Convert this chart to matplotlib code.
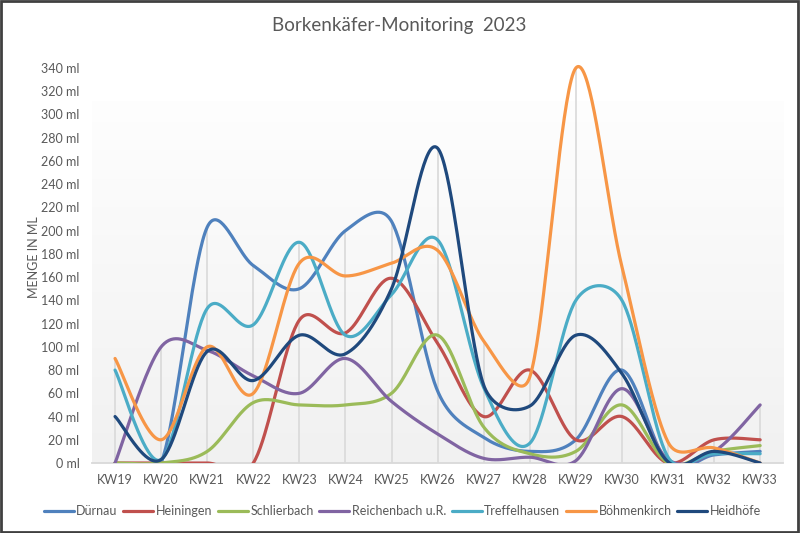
import numpy as np
import matplotlib.pyplot as plt
from matplotlib.patches import Rectangle
from matplotlib.transforms import Bbox, TransformedBbox

weeks = ["KW19", "KW20", "KW21", "KW22", "KW23", "KW24", "KW25", "KW26",
         "KW27", "KW28", "KW29", "KW30", "KW31", "KW32", "KW33"]

duernau = [0, 0, 203, 170, 150, 200, 208, 62, 22, 10, 20, 80, 0, 7, 10]
heiningen = [0, 0, 0, 0, 123, 112, 159, 103, 40, 80, 20, 40, 0, 20, 20]
schlierbach = [0, 0, 10, 52, 50, 50, 60, 110, 31, 8, 10, 50, 0, 10, 15]
reichenbach = [0, 100, 97, 75, 60, 90, 53, 25, 4, 5, 2, 64, 3, 10, 50]
treffelhausen = [80, 3, 133, 119, 190, 110, 145, 192, 65, 17, 140, 140, 5, 8, 8]
boehmenkirch = [90, 20, 100, 60, 172, 161, 172, 183, 105, 74, 340, 169, 18, 13, 0]
heidhoefe = [40, 3, 96, 71, 110, 94, 150, 271, 67, 49, 110, 77, 1, 10, 0]

names = ["Dürnau", "Heiningen", "Schlierbach", "Reichenbach u.R.",
         "Treffelhausen", "Böhmenkirch", "Heidhöfe"]
series = [duernau, heiningen, schlierbach, reichenbach,
          treffelhausen, boehmenkirch, heidhoefe]
colors = ["#4F81BD", "#C0504D", "#9BBB59", "#8064A2",
          "#4BACC6", "#F79646", "#1F497D"]

grey = "#595959"
plt.rcParams['font.family'] = ['Lato', 'DejaVu Sans']

# pixel size of one category step and one ml (used for the smoothing)
SX = 46.07
SY = 1.1618


# excel style smoothed line: bezier segments, control points at 1/6,
# shortened when the neighbouring chord is much longer than the segment
def smooth(y, steps=40):
    pts = np.column_stack([np.arange(len(y)) * SX, np.asarray(y, float) * SY])
    pts = np.vstack([pts[0], pts, pts[-1]])
    t = np.linspace(0, 1, steps, endpoint=False)[:, None]
    out = []
    for i in range(len(y) - 1):
        p0, p1, p2, p3 = pts[i], pts[i + 1], pts[i + 2], pts[i + 3]
        d12 = np.hypot(*(p2 - p1))
        d02 = np.hypot(*(p2 - p0))
        d13 = np.hypot(*(p3 - p1))
        f0 = 1 / 6 if d02 / 6 < d12 / 2 else d12 / d02 / 2
        f1 = 1 / 6 if d13 / 6 < d12 / 2 else d12 / d13 / 2
        c1 = p1 + (p2 - p0) * f0
        c2 = p2 - (p3 - p1) * f1
        b = ((1 - t)**3 * p1 + 3 * (1 - t)**2 * t * c1
             + 3 * (1 - t) * t**2 * c2 + t**3 * p2)
        out.append(b)
    out.append(pts[-1][None, :])
    out = np.vstack(out)
    return out[:, 0] / SX, out[:, 1] / SY


fig = plt.figure(figsize=(8, 5.33), dpi=100)
ax = fig.add_axes([0.115, 0.1313, 0.864, 0.7411])

x = np.arange(len(weeks))

# background gradient of plot area
grad = np.linspace(0, 1, 256).reshape(-1, 1)
top = np.array([0.995, 0.995, 0.995])
bot = np.array([0.945, 0.945, 0.945])
img = top + (bot - top) * grad
img = np.repeat(img[:, None, :], 2, axis=1).reshape(256, 2, 3)
ax.imshow(img, extent=[-0.5, 14.5, 0, 311], aspect='auto', zorder=0)

# drop lines
tops = np.max(np.array(series), axis=0)
ax.vlines(x, 0, tops, color="#D9D9D9", lw=1.2, zorder=1)

clipbox = TransformedBbox(Bbox([[-0.5, 0], [14.5, 400]]), ax.transData)
for name, vals, c in zip(names, series, colors):
    sx, sy = smooth(vals)
    ln, = ax.plot(sx, sy, color=c, lw=2.3, label=name, zorder=3,
                  solid_capstyle='round')
    ln.set_clip_box(clipbox)

ax.set_xlim(-0.5, 14.5)
ax.set_ylim(0, 340)
ax.set_yticks(range(0, 341, 20))
ax.set_yticklabels([f"{v} ml" for v in range(0, 341, 20)])
ax.set_xticks(x)
ax.set_xticklabels(weeks)
ax.tick_params(length=0, labelsize=9, labelcolor=grey)
ax.tick_params(axis='y', pad=9)
ax.tick_params(axis='x', pad=8)
for s in ["top", "right", "left"]:
    ax.spines[s].set_visible(False)
ax.spines["bottom"].set_color("#D9D9D9")
ax.spines["bottom"].set_linewidth(1.3)
ax.set_facecolor("none")

ax.set_ylabel("MENGE IN ML", fontsize=9, color=grey)
ax.yaxis.set_label_coords(-0.075, 0.52)

fig.text(0.499, 0.953, "Borkenkäfer-Monitoring  2023", ha='center', va='center',
         fontsize=13.5, color=grey)

fig.legend(loc='center', bbox_to_anchor=(0.503, 0.041), ncol=7, frameon=False,
           fontsize=9, labelcolor=grey, handlelength=2.4, handletextpad=0.2,
           columnspacing=0.45)

fig.patches.append(Rectangle((0.001, 0.001), 0.997, 0.997, transform=fig.transFigure,
                             fill=False, edgecolor="#404040", lw=2))

plt.savefig("out.png", dpi=100)
